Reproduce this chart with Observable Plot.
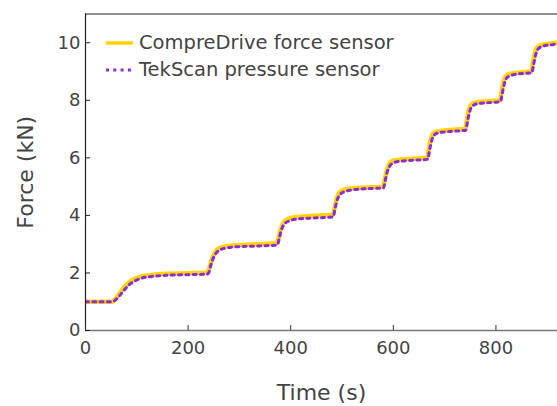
<!DOCTYPE html>
<html>
<head>
<meta charset="utf-8">
<script src="https://cdn.jsdelivr.net/npm/d3@7"></script>
<script src="https://cdn.jsdelivr.net/npm/@observablehq/plot@0.6"></script>
<style>
  html, body { margin: 0; padding: 0; background: #fff; }
  #wrap { position: relative; width: 557px; height: 406px; font-family: "DejaVu Sans", sans-serif; }
  #legend { position: absolute; left: 106px; top: 28.75px; font-size: 19.5px; color: #444; line-height: 27.5px; }
  #legend .row { display: flex; align-items: center; height: 27.5px; white-space: nowrap; }
  #legend svg { margin-right: 6px; }
</style>
</head>
<body>
<div id="wrap"></div>
<script>
const seriesNames = ["CompreDrive force sensor", "TekScan pressure sensor"];

// CompreDrive force sensor (yellow, solid)
const timeA  = [0, 52, 55, 65, 75, 85, 95, 110, 130, 160, 200, 236,
                240, 245, 252, 260, 275, 300, 340, 372,
                376, 380, 386, 395, 410, 440, 482,
                486, 490, 496, 505, 520, 550, 580,
                584, 588, 593, 600, 615, 640, 666,
                669, 673, 678, 688, 710, 740,
                743, 747, 752, 762, 785, 808,
                811, 815, 820, 830, 850, 869,
                872, 876, 881, 891, 910, 925];
const forceA = [1.0, 1.0, 1.03, 1.25, 1.5, 1.68, 1.79, 1.88, 1.93, 1.97, 1.99, 2.01,
                2.1, 2.4, 2.7, 2.85, 2.93, 2.97, 3.0, 3.03,
                3.2, 3.5, 3.75, 3.88, 3.94, 3.98, 4.02,
                4.3, 4.6, 4.82, 4.9, 4.94, 4.97, 5.0,
                5.3, 5.6, 5.82, 5.9, 5.94, 5.97, 6.0,
                6.3, 6.65, 6.85, 6.93, 6.97, 7.0,
                7.3, 7.65, 7.85, 7.93, 7.97, 8.0,
                8.3, 8.65, 8.85, 8.93, 8.97, 9.0,
                9.3, 9.65, 9.85, 9.93, 9.98, 10.02];

// TekScan pressure sensor (purple, dotted)
const timeB  = [0, 52, 56, 66, 76, 86, 96, 110, 130, 160, 200, 237,
                240, 244, 250, 258, 270, 295, 340, 374,
                377, 381, 387, 396, 412, 445, 483,
                486, 490, 496, 506, 522, 552, 581,
                584, 588, 594, 602, 618, 642, 667,
                670, 674, 679, 690, 712, 741,
                744, 748, 753, 764, 787, 809,
                812, 816, 821, 832, 852, 870,
                873, 877, 882, 893, 912, 925];
const forceB = [1.0, 1.0, 1.03, 1.2, 1.42, 1.6, 1.72, 1.82, 1.88, 1.92, 1.94, 1.96,
                2.0, 2.25, 2.55, 2.75, 2.85, 2.91, 2.94, 2.97,
                3.15, 3.45, 3.68, 3.8, 3.87, 3.91, 3.95,
                4.2, 4.5, 4.72, 4.83, 4.89, 4.93, 4.96,
                5.2, 5.5, 5.74, 5.84, 5.89, 5.92, 5.95,
                6.2, 6.55, 6.78, 6.88, 6.92, 6.96,
                7.2, 7.55, 7.78, 7.88, 7.92, 7.96,
                8.2, 8.55, 8.78, 8.88, 8.93, 8.96,
                9.2, 9.55, 9.78, 9.89, 9.94, 9.98];

const xTicks = [0, 200, 400, 600, 800];
const yTicks = [0, 2, 4, 6, 8, 10];
const xLabel = "Time (s)";
const yLabel = "Force (kN)";

const dataA = timeA.map((t, i) => ({t, f: forceA[i]}));
const dataB = timeB.map((t, i) => ({t, f: forceB[i]}));

const yellow = "#FFD300";
const purple = "#8A2BE2";
const textColor = "#444";

const chart = Plot.plot({
  width: 557,
  height: 406,
  marginLeft: 85,
  marginRight: 0,
  marginTop: 13.5,
  marginBottom: 76,
  style: {fontFamily: "DejaVu Sans, sans-serif", fontSize: "18px", background: "#fff"},
  x: {domain: [0, 920]},
  y: {domain: [0, 11]},
  marks: [
    Plot.line(dataA, {x: "t", y: "f", stroke: yellow, strokeWidth: 4.5, curve: "monotone-x", clip: true}),
    Plot.line(dataB, {x: "t", y: "f", stroke: purple, strokeWidth: 3, strokeDasharray: "3,4.3", curve: "monotone-x", clip: true}),
    Plot.ruleY([0], {stroke: "#777", strokeWidth: 1.3}),
    Plot.ruleY([11], {stroke: "#222", strokeWidth: 1.2}),
    Plot.ruleX([0], {stroke: "#222", strokeWidth: 1.2}),
    // inward ticks
    Plot.axisX({ticks: xTicks, tickSize: 5, dy: -5, fill: "none", stroke: "#333", label: null}),
    Plot.axisY({ticks: yTicks, tickSize: 5, dx: 5, fill: "none", stroke: "#222", label: null}),
    // tick labels
    Plot.axisX({ticks: xTicks, tickSize: 0, tickPadding: 11, stroke: "none", fill: textColor, fontSize: 18, label: null}),
    Plot.axisY({ticks: yTicks, tickSize: 0, tickPadding: 5, stroke: "none", fill: textColor, fontSize: 18, label: null}),
    // axis titles
    Plot.text([xLabel], {frameAnchor: "bottom", text: d => d, dy: 62, fontSize: 22, fill: textColor, textAnchor: "middle", lineAnchor: "middle"}),
    Plot.text([yLabel], {frameAnchor: "left", text: d => d, dx: -60, rotate: -90, fontSize: 22, fill: textColor, textAnchor: "middle", lineAnchor: "middle"})
  ]
});

const wrap = document.getElementById("wrap");
wrap.appendChild(chart);

// Legend (overlaid inside the plot area)
const legend = document.createElement("div");
legend.id = "legend";
const swatches = [
  `<svg width="27" height="6"><line x1="0" y1="3" x2="27" y2="3" stroke="${yellow}" stroke-width="3.5"/></svg>`,
  `<svg width="27" height="6"><line x1="0" y1="3" x2="27" y2="3" stroke="${purple}" stroke-width="3" stroke-dasharray="3,4.3"/></svg>`
];
seriesNames.forEach((name, i) => {
  const row = document.createElement("div");
  row.className = "row";
  row.innerHTML = swatches[i];
  const span = document.createElement("span");
  span.textContent = name;
  row.appendChild(span);
  legend.appendChild(row);
});
wrap.appendChild(legend);
</script>
</body>
</html>
